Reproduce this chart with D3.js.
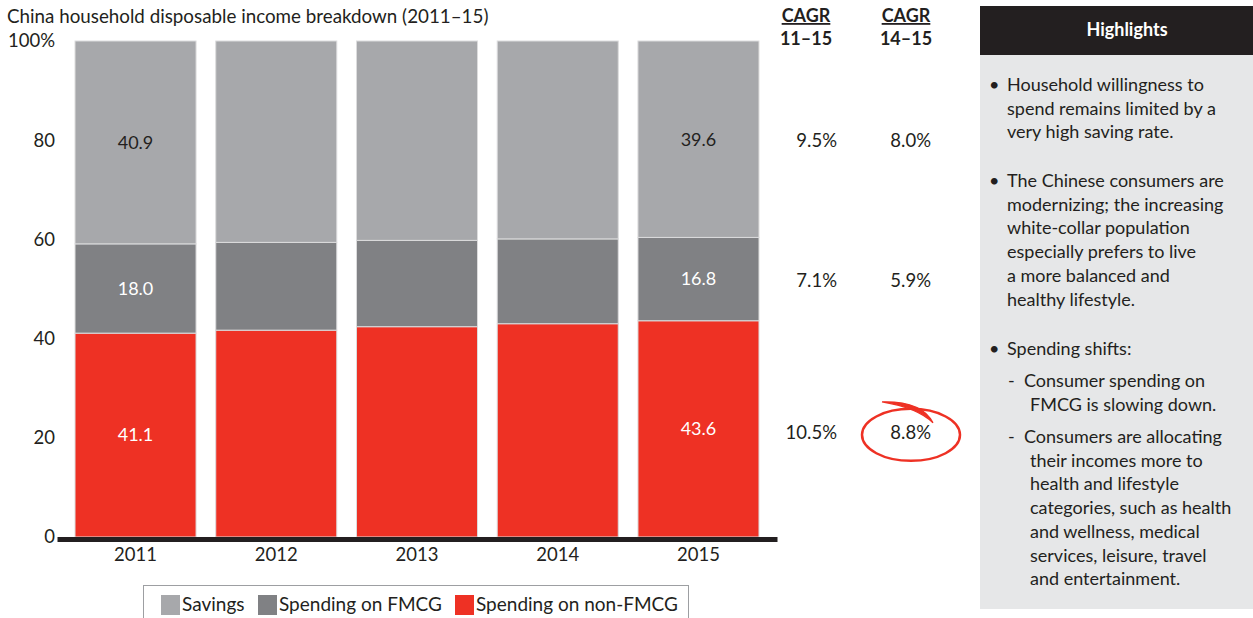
<!DOCTYPE html>
<html>
<head>
<meta charset="utf-8">
<script src="https://cdn.jsdelivr.net/npm/d3@7"></script>
<style>
  body { margin: 0; background: #fff; }
  text { font-family: Lato, "Noto Sans", sans-serif; fill: #231f20; }
</style>
</head>
<body>
<div id="chart"></div>
<script>
// data
var years = ['2011', '2012', '2013', '2014', '2015'];
var nonFmcg = [41.1, 41.7, 42.4, 43.0, 43.6];
var fmcg = [18.0, 17.7, 17.4, 17.1, 16.8];
var savings = [40.9, 40.6, 40.2, 39.9, 39.6];
var seriesNames = ['Spending on non-FMCG', 'Spending on FMCG', 'Savings'];
var seriesColors = ['#ee3124', '#808184', '#a7a8ab'];
var labelColors = ['#ffffff', '#ffffff', '#231f20'];
var labelledYears = ['2011', '2015'];
var cagr1115 = ['10.5%', '7.1%', '9.5%'];
var cagr1415 = ['8.8%', '5.9%', '8.0%'];
var yTicks = [0, 20, 40, 60, 80, 100];
var legendOrder = ['Savings', 'Spending on FMCG', 'Spending on non-FMCG'];
var highlights = [
    {bullet: '•', lines: ['Household willingness to', 'spend remains limited by a', 'very high saving rate.']},
    {bullet: '•', lines: ['The Chinese consumers are', 'modernizing; the increasing', 'white-collar population', 'especially prefers to live', 'a more balanced and', 'healthy lifestyle.']},
    {bullet: '•', lines: ['Spending shifts:']},
    {bullet: '-', lines: ['Consumer spending on', ' FMCG is slowing down.']},
    {bullet: '-', lines: ['Consumers are allocating', ' their incomes more to', ' health and lifestyle', ' categories, such as health', ' and wellness, medical', ' services, leisure, travel', ' and entertainment.']}
];

var width = 1253;
var height = 618;

var svg = d3.select('#chart').append('svg')
    .attr('width', width)
    .attr('height', height);

var rows = years.map(function(y, i) {
    return {year: y, 'Spending on non-FMCG': nonFmcg[i], 'Spending on FMCG': fmcg[i], 'Savings': savings[i]};
});
var stacked = d3.stack().keys(seriesNames)(rows);

var xScale = d3.scaleBand()
    .domain(years)
    .range([57, 777])
    .paddingInner(0.14)
    .paddingOuter(0.128);

var yScale = d3.scaleLinear()
    .domain([0, 100])
    .range([537, 41]);

// title
svg.append('text')
    .attr('x', 7)
    .attr('y', 23)
    .style('font-size', '18.8px')
    .text('China household disposable income breakdown (2011\u201315)');

// bars
var layers = svg.selectAll('g.layer')
    .data(stacked)
    .enter()
    .append('g')
    .attr('class', 'layer')
    .attr('fill', function(d, i) { return seriesColors[i]; });

layers.selectAll('rect')
    .data(function(d) { return d; })
    .enter()
    .append('rect')
    .attr('x', function(d) { return xScale(d.data.year); })
    .attr('width', xScale.bandwidth())
    .attr('y', function(d) { return yScale(d[1]); })
    .attr('height', function(d) { return yScale(d[0]) - yScale(d[1]); })
    .attr('stroke', '#dcdcdd')
    .attr('stroke-width', 1);

// value labels (first and last year only)
layers.each(function(layer, i) {
    d3.select(this).selectAll('text')
        .data(layer.filter(function(d) { return labelledYears.indexOf(d.data.year) >= 0; }))
        .enter()
        .append('text')
        .attr('x', function(d) { return xScale(d.data.year) + xScale.bandwidth() / 2; })
        .attr('y', function(d) { return (yScale(d[0]) + yScale(d[1])) / 2; })
        .attr('dy', '0.35em')
        .attr('text-anchor', 'middle')
        .style('font-size', '18px')
        .style('fill', labelColors[i])
        .text(function(d) { return (d[1] - d[0]).toFixed(1); });
});

// y axis
var yAxis = d3.axisLeft(yScale)
    .tickValues(yTicks)
    .tickSize(0)
    .tickPadding(0)
    .tickFormat(function(d) { return d === 100 ? '100%' : d; });

svg.append('g')
    .attr('transform', 'translate(55,0)')
    .call(yAxis)
    .call(function(g) { g.select('.domain').remove(); })
    .selectAll('text')
    .style('font-size', '18.5px')
    .style('font-family', 'Lato, "Noto Sans", sans-serif')
    .style('fill', '#231f20');

// x axis
var xAxis = d3.axisBottom(xScale)
    .tickSize(0)
    .tickSizeOuter(0)
    .tickPadding(9);

var xg = svg.append('g')
    .attr('transform', 'translate(0,539)')
    .call(xAxis);
xg.select('.domain')
    .attr('stroke', '#231f20')
    .attr('stroke-width', 5);
xg.selectAll('text')
    .style('font-size', '18.5px')
    .style('font-family', 'Lato, "Noto Sans", sans-serif')
    .style('fill', '#231f20');

// CAGR columns, lined up with the last bar's segments
var lastCentres = stacked.map(function(layer) {
    var d = layer[layer.length - 1];
    return (yScale(d[0]) + yScale(d[1])) / 2;
});
var cagrCols = [
    {head: '11\u201315', cx: 806, right: 837, values: cagr1115},
    {head: '14\u201315', cx: 906, right: 931, values: cagr1415}
];
cagrCols.forEach(function(col) {
    svg.append('text')
        .attr('x', col.cx)
        .attr('y', 22)
        .attr('text-anchor', 'middle')
        .style('font-size', '18px')
        .style('font-weight', 'bold')
        .style('text-decoration', 'underline')
        .text('CAGR');
    svg.append('text')
        .attr('x', col.cx)
        .attr('y', 45)
        .attr('text-anchor', 'middle')
        .style('font-size', '18px')
        .style('font-weight', 'bold')
        .text(col.head);
    svg.selectAll(null)
        .data(col.values)
        .enter()
        .append('text')
        .attr('x', col.right)
        .attr('y', function(d, i) { return lastCentres[i] + (i === 0 ? 4 : 1); })
        .attr('dy', '0.35em')
        .attr('text-anchor', 'end')
        .style('font-size', '18.5px')
        .text(function(d) { return d; });
});

// hand-drawn circle round the 14-15 non-FMCG figure
var circY = lastCentres[0] + 6;
svg.append('ellipse')
    .attr('cx', 911)
    .attr('cy', circY)
    .attr('rx', 49)
    .attr('ry', 26)
    .attr('fill', 'none')
    .attr('stroke', '#ee3124')
    .attr('stroke-width', 2.5);
svg.append('path')
    .attr('d', 'M882,' + (circY - 33) + ' Q922,' + (circY - 34) + ' 933,' + (circY - 12)
        + ' Q918,' + (circY - 27) + ' 882,' + (circY - 33) + 'Z')
    .attr('fill', '#ee3124')
    .attr('stroke', '#ee3124')
    .attr('stroke-width', 1.2);

// legend
var legend = svg.append('g');
legend.append('rect')
    .attr('x', 143.5)
    .attr('y', 585.5)
    .attr('width', 545)
    .attr('height', 40)
    .attr('fill', 'none')
    .attr('stroke', '#9d9fa2')
    .attr('stroke-width', 1);

var legendX = [161, 258, 455];
legendOrder.forEach(function(name, i) {
    var idx = seriesNames.indexOf(name);
    legend.append('rect')
        .attr('x', legendX[i])
        .attr('y', 595)
        .attr('width', 19)
        .attr('height', 20)
        .attr('fill', seriesColors[idx]);
    legend.append('text')
        .attr('x', legendX[i] + 21)
        .attr('y', 611)
        .style('font-size', '19px')
        .text(name);
});

// highlights panel
var panel = svg.append('g');
panel.append('rect')
    .attr('x', 980)
    .attr('y', 55)
    .attr('width', 273)
    .attr('height', 554)
    .attr('fill', '#e6e7e8');
panel.append('rect')
    .attr('x', 980)
    .attr('y', 6)
    .attr('width', 273)
    .attr('height', 49)
    .attr('fill', '#231f20');
panel.append('text')
    .attr('x', 1127)
    .attr('y', 36)
    .attr('text-anchor', 'middle')
    .style('font-size', '18px')
    .style('font-weight', 'bold')
    .style('fill', '#ffffff')
    .text('Highlights');

var blockTops = [91, 187, 355, 387, 443];
var lineGap = 23.7;
highlights.forEach(function(block, b) {
    var sub = block.bullet === '-';
    panel.append('text')
        .attr('x', sub ? 1008 : 989)
        .attr('y', blockTops[b])
        .style('font-size', '18px')
        .text(block.bullet);
    block.lines.forEach(function(line, i) {
        var indented = line.charAt(0) === ' ';
        panel.append('text')
            .attr('x', sub ? (indented ? 1030 : 1024) : 1007)
            .attr('y', blockTops[b] + i * lineGap)
            .style('font-size', '18px')
            .text(line.trim());
    });
});
</script>
</body>
</html>
